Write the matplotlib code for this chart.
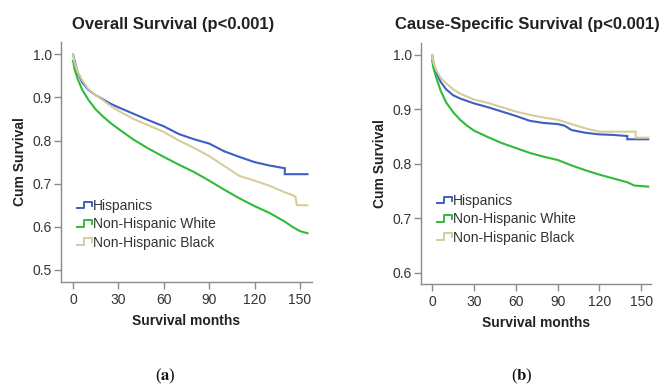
import numpy as np
import matplotlib
matplotlib.use("Agg")
import matplotlib.pyplot as plt
from matplotlib.lines import Line2D
from matplotlib.legend_handler import HandlerBase

plt.rcParams['font.family'] = ['Liberation Sans', 'DejaVu Sans']
plt.rcParams['mathtext.fontset'] = 'stix'

# ---------------- data ----------------
series_names = ["Hispanics", "Non-Hispanic White", "Non-Hispanic Black"]
colors = ["#3f5ec4", "#2fbb3a", "#d5cd9c"]

# Overall survival
os_hisp_t = [0, 1, 3, 6, 10, 15, 20, 25, 30, 40, 50, 60, 70, 80, 90, 100, 110, 120, 130, 138, 140, 140, 155]
os_hisp_s = [1.0, 0.985, 0.958, 0.935, 0.918, 0.905, 0.895, 0.885, 0.877, 0.862, 0.847, 0.833, 0.815, 0.803,
             0.793, 0.775, 0.762, 0.750, 0.742, 0.737, 0.736, 0.722, 0.722]
os_nhw_t = [0, 1, 3, 6, 10, 15, 20, 25, 30, 40, 50, 60, 70, 80, 90, 100, 110, 120, 130, 140, 145, 150, 155]
os_nhw_s = [0.985, 0.965, 0.943, 0.918, 0.895, 0.872, 0.855, 0.840, 0.827, 0.802, 0.781, 0.762, 0.744, 0.727,
            0.707, 0.686, 0.666, 0.648, 0.632, 0.612, 0.600, 0.590, 0.585]
os_nhb_t = [0, 1, 3, 6, 10, 15, 20, 25, 30, 40, 50, 60, 70, 80, 90, 100, 110, 120, 130, 140, 144, 147, 148, 155]
os_nhb_s = [1.0, 0.98, 0.96, 0.94, 0.92, 0.905, 0.893, 0.880, 0.869, 0.850, 0.835, 0.820, 0.800, 0.783,
            0.764, 0.741, 0.718, 0.707, 0.695, 0.680, 0.675, 0.670, 0.650, 0.650]

# Cause-specific survival
css_hisp_t = [0, 1, 3, 6, 10, 15, 20, 30, 40, 50, 60, 70, 80, 90, 95, 100, 110, 120, 130, 140, 140, 155]
css_hisp_s = [1.0, 0.985, 0.968, 0.951, 0.937, 0.926, 0.920, 0.911, 0.904, 0.896, 0.888, 0.879, 0.875, 0.873,
              0.870, 0.862, 0.857, 0.854, 0.853, 0.851, 0.845, 0.845]
css_nhw_t = [0, 1, 3, 6, 10, 15, 20, 25, 30, 40, 50, 60, 70, 80, 90, 100, 110, 120, 130, 140, 145, 155]
css_nhw_s = [0.99, 0.975, 0.958, 0.935, 0.913, 0.895, 0.881, 0.870, 0.861, 0.849, 0.838, 0.829, 0.820, 0.813,
             0.807, 0.797, 0.788, 0.780, 0.773, 0.766, 0.760, 0.758]
css_nhb_t = [0, 1, 3, 6, 10, 15, 20, 30, 40, 50, 60, 70, 80, 90, 100, 110, 120, 130, 146, 146, 155]
css_nhb_s = [1.0, 0.985, 0.972, 0.958, 0.948, 0.937, 0.929, 0.918, 0.912, 0.904, 0.896, 0.890, 0.885, 0.881,
             0.873, 0.865, 0.859, 0.859, 0.859, 0.848, 0.848]

x_ticks = [0, 30, 60, 90, 120, 150]
os_yticks = [0.5, 0.6, 0.7, 0.8, 0.9, 1.0]
css_yticks = [0.6, 0.7, 0.8, 0.9, 1.0]


class StepHandler(HandlerBase):
    def create_artists(self, legend, orig_handle, xdescent, ydescent, width, height, fontsize, trans):
        xs = np.array([0, 0.45, 0.45, 1.0, 1.0]) * width - xdescent
        ys = np.array([0.15, 0.15, 0.9, 0.9, 0.45]) * height - ydescent
        ln = Line2D(xs, ys, color=orig_handle.get_color(), lw=1.4)
        ln.set_transform(trans)
        return [ln]


W, H = 665, 389
fig = plt.figure(figsize=(W / 100, H / 100), dpi=100)


def make_axes(px_left, px_right, px_top, px_bottom):
    return fig.add_axes([px_left / W, 1 - px_bottom / H, (px_right - px_left) / W, (px_bottom - px_top) / H])


def style(ax, yticks, ylim, xlim):
    for s in ['top', 'right']:
        ax.spines[s].set_visible(False)
    for s in ['left', 'bottom']:
        ax.spines[s].set_color('#8a8a8a')
        ax.spines[s].set_linewidth(1.0)
    ax.set_xticks(x_ticks)
    ax.set_yticks(yticks)
    ax.set_yticklabels([f"{v:.1f}" for v in yticks])
    ax.set_xlim(*xlim)
    ax.set_ylim(*ylim)
    ax.tick_params(axis='both', direction='out', length=5, width=1.0, color='#8a8a8a',
                   labelsize=10, labelcolor='#333333')
    ax.tick_params(axis='y', pad=1.5)
    ax.tick_params(axis='x', pad=3)
    ax.set_xlabel("Survival months", fontsize=10, fontweight='bold', color='#222222', labelpad=5)
    ax.set_ylabel("Cum Survival", fontsize=10, fontweight='bold', color='#222222', labelpad=4)


def draw(ax, data, legend_xy):
    handles = []
    for (t, s), c, name in zip(data, colors, series_names):
        h, = ax.plot(t, s, color=c, lw=1.5, solid_joinstyle='miter')
        handles.append(h)
    leg = ax.legend(handles, series_names, handler_map={Line2D: StepHandler()},
                    loc='upper left', bbox_to_anchor=(legend_xy[0] / W, 1 - legend_xy[1] / H),
                    bbox_transform=fig.transFigure, frameon=False, fontsize=10,
                    handlelength=1.1, handleheight=0.6, handletextpad=0.05, labelspacing=0.32,
                    borderpad=0, borderaxespad=0)
    for txt in leg.get_texts():
        txt.set_color('#333333')


ax1 = make_axes(61, 312, 42, 282)
draw(ax1, [(os_hisp_t, os_hisp_s), (os_nhw_t, os_nhw_s), (os_nhb_t, os_nhb_s)], (77, 199))
style(ax1, os_yticks, (0.472, 1.0285), (-8, 158))

ax2 = make_axes(421, 651, 43, 284)
draw(ax2, [(css_hisp_t, css_hisp_s), (css_nhw_t, css_nhw_s), (css_nhb_t, css_nhb_s)], (437, 194))
style(ax2, css_yticks, (0.579, 1.022), (-8, 157))

fig.text(173 / W, 1 - 25 / H, "Overall Survival (p<0.001)", ha='center', va='center',
         fontsize=12, fontweight='bold', color='#222222')
fig.text(527 / W, 1 - 25 / H, "Cause-Specific Survival (p<0.001)", ha='center', va='center',
         fontsize=12, fontweight='bold', color='#222222')

fig.text(165 / W, 1 - 376 / H, r"($\mathbf{a}$)", ha='center', va='center', fontsize=12,
         family='Liberation Serif', color='#111111')
fig.text(522 / W, 1 - 376 / H, r"($\mathbf{b}$)", ha='center', va='center', fontsize=12,
         family='Liberation Serif', color='#111111')

fig.savefig("out.png", dpi=100)
